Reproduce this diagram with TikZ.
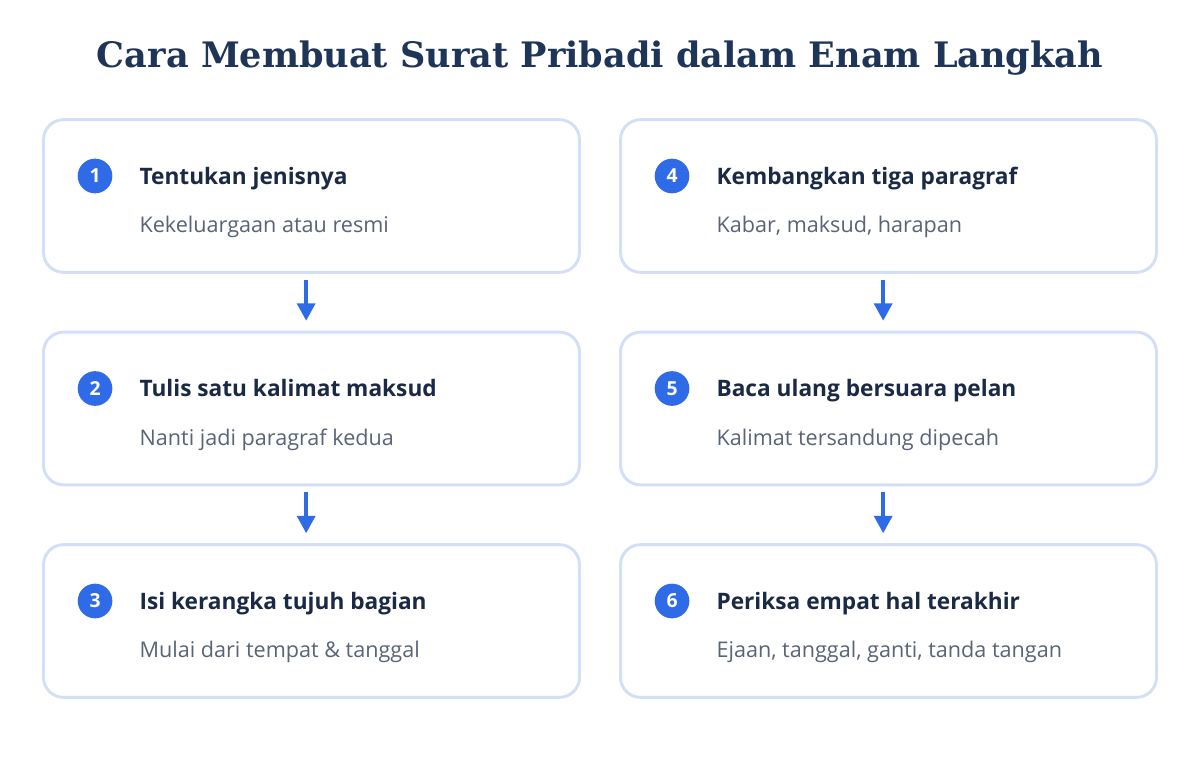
\documentclass[tikz,border=0pt]{standalone}
\usepackage{fontspec}
\setmainfont{Open Sans}
\newfontfamily\titlefont{DejaVu Serif}
\usetikzlibrary{positioning,arrows.meta}
\definecolor{navy}{HTML}{1E3557}
\definecolor{ink}{HTML}{1B2A44}
\definecolor{slate}{HTML}{5A6477}
\definecolor{rim}{HTML}{D2DFF6}
\definecolor{accent}{HTML}{2F6BE6}
\begin{document}
\begin{tikzpicture}[
    x=0.75pt, y=-0.75pt,
    title/.style={anchor=base,text=navy,font=\titlefont\bfseries\fontsize{26.3}{30}\selectfont},
    card/.style={draw=rim,fill=white,line width=2.2pt,rounded corners=15pt,
      minimum width=402pt,minimum height=114.5pt},
    num/.style={circle,fill=accent,text=white,inner sep=0,minimum size=26pt,
      font=\bfseries\fontsize{14.5}{14.5}\selectfont},
    head/.style={anchor=base west,inner sep=0,text=ink,
      font=\bfseries\fontsize{17}{20}\selectfont},
    sub/.style={anchor=base west,inner sep=0,text=slate,
      font=\fontsize{16.2}{18}\selectfont},
    flow/.style={draw=accent,line width=2.6pt,-{Triangle[length=13pt,width=13.5pt]}}]
 \useasboundingbox[fill=white] (0,0) rectangle (1200,760);
 \node[title] (judul) at (600,67) {Cara Membuat Surat Pribadi dalam Enam Langkah};

 % kolom kiri
 \node[card] (s1) at (311.5,196) {};
 \node[num] (n1) at ([xshift=39.75pt,yshift=15pt]s1.west) {1};
 \node[head] (h1) at ([xshift=20pt,yshift=-6pt]n1.east) {Tentukan jenisnya};
 \node[sub] (t1) at ([yshift=-36.5pt]h1.base west) {Kekeluargaan atau resmi};

 \node[card] (s2) at (311.5,408.5) {};
 \node[num] (n2) at ([xshift=39.75pt,yshift=15pt]s2.west) {2};
 \node[head] (h2) at ([xshift=20pt,yshift=-6pt]n2.east) {Tulis satu kalimat maksud};
 \node[sub] (t2) at ([yshift=-36.5pt]h2.base west) {Nanti jadi paragraf kedua};

 \node[card] (s3) at (311.5,621) {};
 \node[num] (n3) at ([xshift=39.75pt,yshift=15pt]s3.west) {3};
 \node[head] (h3) at ([xshift=20pt,yshift=-6pt]n3.east) {Isi kerangka tujuh bagian};
 \node[sub] (t3) at ([yshift=-36.5pt]h3.base west) {Mulai dari tempat \& tanggal};

 % kolom kanan
 \node[card] (s4) at (888.5,196) {};
 \node[num] (n4) at ([xshift=39.75pt,yshift=15pt]s4.west) {4};
 \node[head] (h4) at ([xshift=20pt,yshift=-6pt]n4.east) {Kembangkan tiga paragraf};
 \node[sub] (t4) at ([yshift=-36.5pt]h4.base west) {Kabar, maksud, harapan};

 \node[card] (s5) at (888.5,408.5) {};
 \node[num] (n5) at ([xshift=39.75pt,yshift=15pt]s5.west) {5};
 \node[head] (h5) at ([xshift=20pt,yshift=-6pt]n5.east) {Baca ulang bersuara pelan};
 \node[sub] (t5) at ([yshift=-36.5pt]h5.base west) {Kalimat tersandung dipecah};

 \node[card] (s6) at (888.5,621) {};
 \node[num] (n6) at ([xshift=39.75pt,yshift=15pt]s6.west) {6};
 \node[head] (h6) at ([xshift=20pt,yshift=-6pt]n6.east) {Periksa empat hal terakhir};
 \node[sub] (t6) at ([yshift=-36.5pt]h6.base west) {Ejaan, tanggal, ganti, tanda tangan};

 % panah
 \draw[flow] ([xshift=-4pt,yshift=-4.5pt]s1.south) -- ([xshift=-4pt,yshift=7.5pt]s2.north);
 \draw[flow] ([xshift=-4pt,yshift=-4.5pt]s2.south) -- ([xshift=-4pt,yshift=7.5pt]s3.north);
 \draw[flow] ([xshift=-4pt,yshift=-4.5pt]s4.south) -- ([xshift=-4pt,yshift=7.5pt]s5.north);
 \draw[flow] ([xshift=-4pt,yshift=-4.5pt]s5.south) -- ([xshift=-4pt,yshift=7.5pt]s6.north);
\end{tikzpicture}
\end{document}
